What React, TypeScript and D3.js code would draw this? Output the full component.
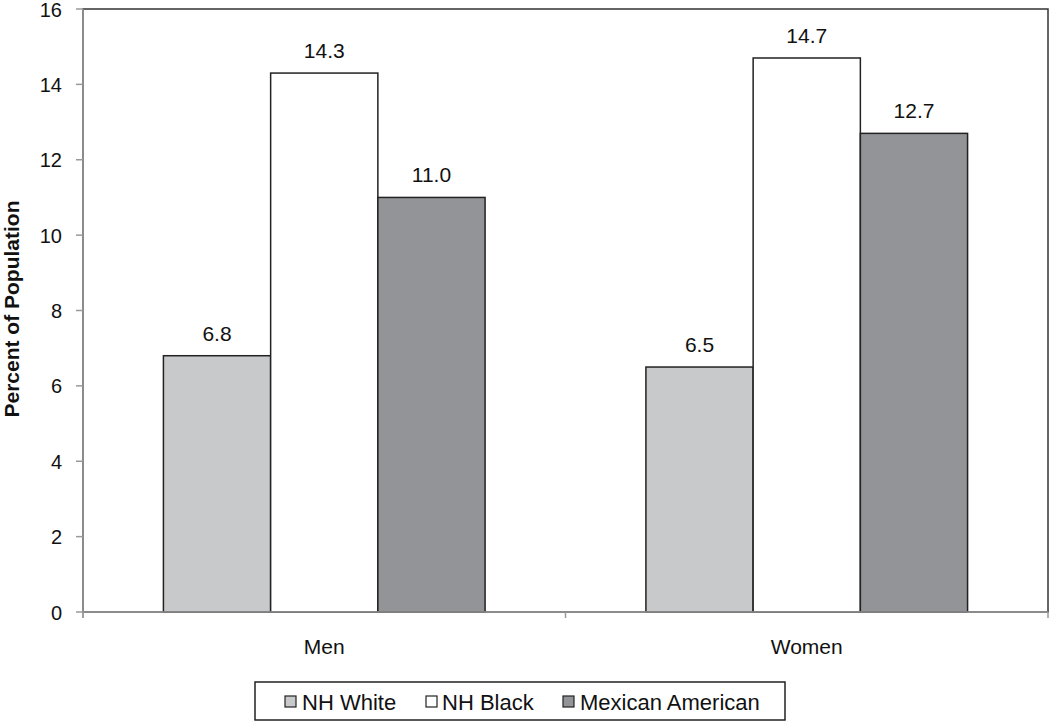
import React from "react";
import * as d3 from "d3";

const categories = ["Men", "Women"];
const seriesNames = ["NH White", "NH Black", "Mexican American"];
const seriesColors = ["#c8c9cb", "#ffffff", "#939497"];
const nhWhite = [6.8, 6.5];
const nhBlack = [14.3, 14.7];
const mexicanAmerican = [11.0, 12.7];
const yTicks = [0, 2, 4, 6, 8, 10, 12, 14, 16];

const W = 1050;
const H = 722;
const FONT = "'Liberation Sans', Arial, Helvetica, sans-serif";

export default function App() {
  const left = 83, right = 1048, top = 9, bottom = 612;
  const series = [nhWhite, nhBlack, mexicanAmerican];
  const x0 = d3.scaleBand<string>().domain(categories).range([left, right]).paddingInner(0).paddingOuter(0);
  const inner = d3
    .scaleBand<number>()
    .domain([0, 1, 2])
    .range([0, x0.bandwidth()])
    .paddingInner(0)
    .paddingOuter(0.75);
  const y = d3.scaleLinear().domain([0, 16]).range([bottom, top]);

  const legX = 255, legY = 682, legW = 530, legH = 38;
  const legItems = [
    { mx: 285, tx: 302 },
    { mx: 426, tx: 442 },
    { mx: 563, tx: 580 },
  ];

  return (
    <div style={{ position: "absolute", left: 0, top: 0 }}>
      <svg width={W} height={H} style={{ display: "block", background: "#fff" }} fontFamily={FONT}>
        <rect x={left} y={top} width={right - left} height={bottom - top} fill="none" stroke="#333" strokeWidth={1.5} />
        {categories.map((c, ci) =>
          series.map((s, si) => {
            const bx = (x0(c) as number) + (inner(si) as number);
            const bw = inner.bandwidth();
            const v = s[ci];
            return (
              <g key={c + si}>
                <rect x={bx} y={y(v)} width={bw} height={y(0) - y(v)} fill={seriesColors[si]} stroke="#222" strokeWidth={1.5} />
                <text x={bx + bw / 2} y={y(v) - 15} textAnchor="middle" fontSize={21} fill="#111">
                  {v.toFixed(1)}
                </text>
              </g>
            );
          })
        )}
        <line x1={left} y1={top} x2={left} y2={bottom + 6} stroke="#999" strokeWidth={1.5} />
        <line x1={left} y1={bottom} x2={right} y2={bottom} stroke="#999" strokeWidth={1.5} />
        {yTicks.map((t) => (
          <g key={t}>
            <line x1={left - 7} x2={left} y1={y(t)} y2={y(t)} stroke="#999" strokeWidth={1.5} />
            <text x={62} y={y(t) + 7.5} textAnchor="end" fontSize={20} fill="#111">
              {t}
            </text>
          </g>
        ))}
        {[0, 1, 2].map((i) => {
          const xx = i === 2 ? right : (x0(categories[i]) as number);
          return <line key={i} x1={xx} x2={xx} y1={bottom} y2={bottom + 6} stroke="#999" strokeWidth={1.5} />;
        })}
        {categories.map((c) => (
          <text key={c} x={(x0(c) as number) + x0.bandwidth() / 2} y={654} textAnchor="middle" fontSize={21} fill="#111">
            {c}
          </text>
        ))}
        <text
          transform={`translate(18.5,${309}) rotate(-90)`}
          textAnchor="middle"
          fontSize={21}
          fontWeight="bold"
          fill="#111"
        >
          Percent of Population
        </text>
        <rect x={legX} y={legY} width={legW} height={legH} fill="#fff" stroke="#222" strokeWidth={1.5} />
        {seriesNames.map((n, i) => (
          <g key={n}>
            <rect x={legItems[i].mx} y={696} width={11} height={11} fill={seriesColors[i]} stroke="#222" strokeWidth={1.2} />
            <text x={legItems[i].tx} y={710} fontSize={22} fill="#111">
              {n}
            </text>
          </g>
        ))}
      </svg>
    </div>
  );
}
